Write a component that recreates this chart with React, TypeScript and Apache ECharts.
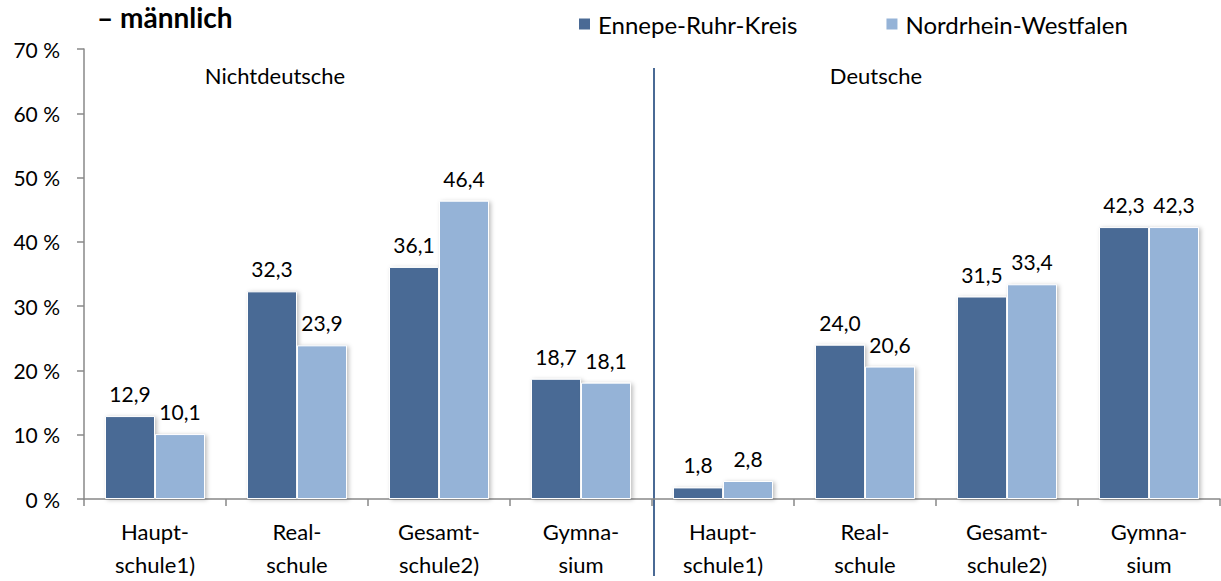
import React, { useEffect, useRef } from "react";
import * as echarts from "echarts";

const categories = [
  "Haupt-\nschule1)", "Real-\nschule", "Gesamt-\nschule2)", "Gymna-\nsium",
  "Haupt-\nschule1)", "Real-\nschule", "Gesamt-\nschule2)", "Gymna-\nsium",
];
const seriesNames = ["Ennepe-Ruhr-Kreis", "Nordrhein-Westfalen"];
const ennepeRuhr = [12.9, 32.3, 36.1, 18.7, 1.8, 24.0, 31.5, 42.3];
const nrw = [10.1, 23.9, 46.4, 18.1, 2.8, 20.6, 33.4, 42.3];
const groupLabels = ["Nichtdeutsche", "Deutsche"];
const title = "– männlich";

const FONT = "Lato, 'Open Sans', sans-serif";
const DARK = "#4A6A95";
const LIGHT = "#95B3D7";

export default function App() {
  const ref = useRef<HTMLDivElement>(null);
  useEffect(() => {
    if (!ref.current) return;
    const chart = echarts.init(ref.current, null, { renderer: "svg" });
    const fmt = (p: any) => Number(p.value).toFixed(1).replace(".", ",");
    const mkSeries = (name: string, data: number[], color: string) => ({
      name,
      type: "bar",
      data,
      barWidth: 50,
      barGap: "0%",
      itemStyle: {
        color,
        borderColor: "#ffffff",
        borderWidth: 1,
        shadowBlur: 4,
        shadowOffsetX: 2,
        shadowOffsetY: 1,
        shadowColor: "rgba(0,0,0,0.25)",
      },
      label: {
        show: true,
        position: "top",
        distance: 12,
        formatter: fmt,
        fontFamily: FONT,
        fontSize: 21,
        color: "#000",
      },
    });
    chart.setOption({
      animation: false,
      textStyle: { fontFamily: FONT },
      grid: { left: 84, right: 1, top: 49, bottom: 75, containLabel: false },
      legend: {
        data: seriesNames,
        left: 572,
        top: 7,
        itemWidth: 13,
        itemHeight: 13,
        itemGap: 87,
        icon: "rect",
        textStyle: { fontFamily: FONT, fontSize: 24, color: "#000", padding: [0, 0, 0, 2] },
      },
      graphic: [
        {
          type: "text",
          left: 97,
          top: 3,
          style: { text: title, font: `bold 28px ${FONT}`, fill: "#000" },
        },
        {
          type: "text",
          x: 275,
          y: 75,
          style: { text: groupLabels[0], font: `22px ${FONT}`, fill: "#000", align: "center", verticalAlign: "middle" },
        },
        {
          type: "text",
          x: 876,
          y: 75,
          style: { text: groupLabels[1], font: `22px ${FONT}`, fill: "#000", align: "center", verticalAlign: "middle" },
        },
        {
          type: "line",
          shape: { x1: 654, y1: 68, x2: 654, y2: 576 },
          style: { stroke: DARK, lineWidth: 2 },
        },
      ],
      xAxis: {
        type: "category",
        data: categories,
        axisLine: { show: true, lineStyle: { color: "#888", width: 1.5 } },
        axisTick: { show: true, alignWithLabel: false, length: 7, lineStyle: { color: "#888", width: 1.5 } },
        axisLabel: {
          interval: 0,
          margin: 16,
          fontFamily: FONT,
          fontSize: 22,
          lineHeight: 33,
          color: "#000",
        },
      },
      yAxis: {
        type: "value",
        min: 0,
        max: 70,
        interval: 10,
        splitLine: { show: false },
        axisLine: { show: true, lineStyle: { color: "#888", width: 1.5 } },
        axisTick: { show: true, length: 7, lineStyle: { color: "#888", width: 1.5 } },
        axisLabel: {
          formatter: "{value} %",
          margin: 24,
          fontFamily: FONT,
          fontSize: 21,
          color: "#000",
        },
      },
      series: [mkSeries(seriesNames[0], ennepeRuhr, DARK), mkSeries(seriesNames[1], nrw, LIGHT)],
    });
    return () => chart.dispose();
  }, []);
  return (
    <div
      ref={ref}
      style={{ position: "fixed", left: 0, top: 0, width: 1221, height: 581, background: "#fff" }}
    />
  );
}
